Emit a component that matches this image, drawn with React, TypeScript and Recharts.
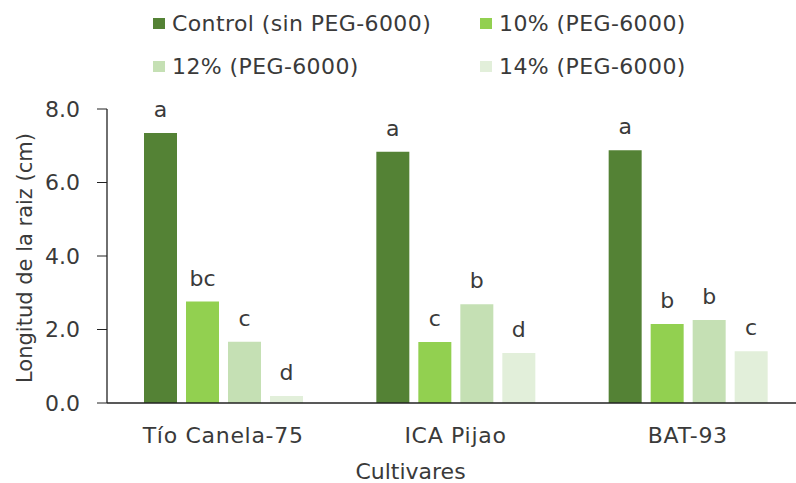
import React from "react";
import { BarChart, Bar, XAxis, YAxis, Legend, LabelList } from "recharts";

const cultivars = ["Tío Canela-75", "ICA Pijao", "BAT-93"];
const control = [7.35, 6.84, 6.88];
const peg10 = [2.76, 1.66, 2.15];
const peg12 = [1.67, 2.69, 2.26];
const peg14 = [0.19, 1.36, 1.41];
const lettersControl = ["a", "a", "a"];
const letters10 = ["bc", "c", "b"];
const letters12 = ["c", "b", "b"];
const letters14 = ["d", "d", "c"];
const yTicks = [0, 2, 4, 6, 8];

const FONT = "'DejaVu Sans', Verdana, sans-serif";
const TEXT = "#3a3a3a";
const FS = 22;

const SERIES = [
  { key: "control", label: "Control (sin PEG-6000)", color: "#548235", letters: "lc" },
  { key: "p10", label: "10% (PEG-6000)", color: "#92D050", letters: "l10" },
  { key: "p12", label: "12% (PEG-6000)", color: "#C5E0B4", letters: "l12" },
  { key: "p14", label: "14% (PEG-6000)", color: "#E2EFDA", letters: "l14" },
];

const data = cultivars.map((name, i) => ({
  name,
  control: control[i],
  p10: peg10[i],
  p12: peg12[i],
  p14: peg14[i],
  lc: lettersControl[i],
  l10: letters10[i],
  l12: letters12[i],
  l14: letters14[i],
}));

const LegendGrid = () => (
  <div
    style={{
      display: "grid",
      gridTemplateColumns: "327px 300px",
      gridTemplateRows: "43px 43px",
      paddingLeft: 153,
      paddingTop: 2,
      height: 109,
      boxSizing: "border-box",
      fontFamily: FONT,
      fontSize: FS,
      color: TEXT,
      letterSpacing: 0.4,
    }}
  >
    {SERIES.map((s) => (
      <div key={s.key} style={{ display: "flex", alignItems: "center", whiteSpace: "nowrap" }}>
        <span style={{ width: 12, height: 11, background: s.color, marginRight: 7, display: "inline-block", flex: "none" }} />
        {s.label}
      </div>
    ))}
  </div>
);

export default function App() {
  return (
    <div style={{ width: 796, height: 483, background: "#fff", overflow: "hidden" }}>
      <style>{`body{margin:0}`}</style>
      <BarChart
        width={796}
        height={483}
        data={data}
        margin={{ top: 0, right: -8, left: 0, bottom: 0 }}
        barGap={9}
        barSize={33}
      >
        <Legend verticalAlign="top" align="left" content={<LegendGrid />} wrapperStyle={{ left: 0, top: 0, width: 796 }} />
        <XAxis
          dataKey="name"
          height={80}
          tickLine={false}
          tickSize={0}
          tickMargin={24}
          axisLine={{ stroke: "#222", strokeWidth: 1.3 }}
          tick={{ fill: TEXT, fontSize: FS, fontFamily: FONT, letterSpacing: 0.7 }}
          label={{
            content: ({ viewBox }: { viewBox?: { x: number; y: number; width: number; height: number } }) => {
              const cx = (viewBox?.x ?? 0) + (viewBox?.width ?? 0) / 2 - 45;
              const by = (viewBox?.y ?? 0) + (viewBox?.height ?? 0) - 4;
              return (
                <text x={cx} y={by} textAnchor="middle" fill={TEXT} fontSize={FS} fontFamily={FONT}>
                  Cultivares
                </text>
              );
            },
          }}
        />
        <YAxis
          width={107}
          domain={[0, 8]}
          ticks={yTicks}
          interval={0}
          tickFormatter={(v: number) => v.toFixed(1)}
          tickSize={10}
          tickMargin={17}
          tickLine={{ stroke: "#222" }}
          axisLine={{ stroke: "#222", strokeWidth: 1.3 }}
          tick={{ fill: TEXT, fontSize: FS, fontFamily: FONT }}
          label={{
            content: ({ viewBox }: { viewBox?: { x: number; y: number; width: number; height: number } }) => {
              const cy = (viewBox?.y ?? 0) + (viewBox?.height ?? 0) / 2 + 2;
              return (
                <text
                  x={25}
                  y={cy}
                  transform={`rotate(-90 25 ${cy})`}
                  textAnchor="middle"
                  dominantBaseline="central"
                  fill={TEXT}
                  fontSize={21}
                  fontFamily={FONT}
                >
                  Longitud de la raiz (cm)
                </text>
              );
            },
          }}
        />
        {SERIES.map((s) => (
          <Bar key={s.key} dataKey={s.key} name={s.label} fill={s.color} isAnimationActive={false}>
            <LabelList dataKey={s.letters} position="top" offset={16} fill={TEXT} fontSize={FS} fontFamily={FONT} />
          </Bar>
        ))}
      </BarChart>
    </div>
  );
}
